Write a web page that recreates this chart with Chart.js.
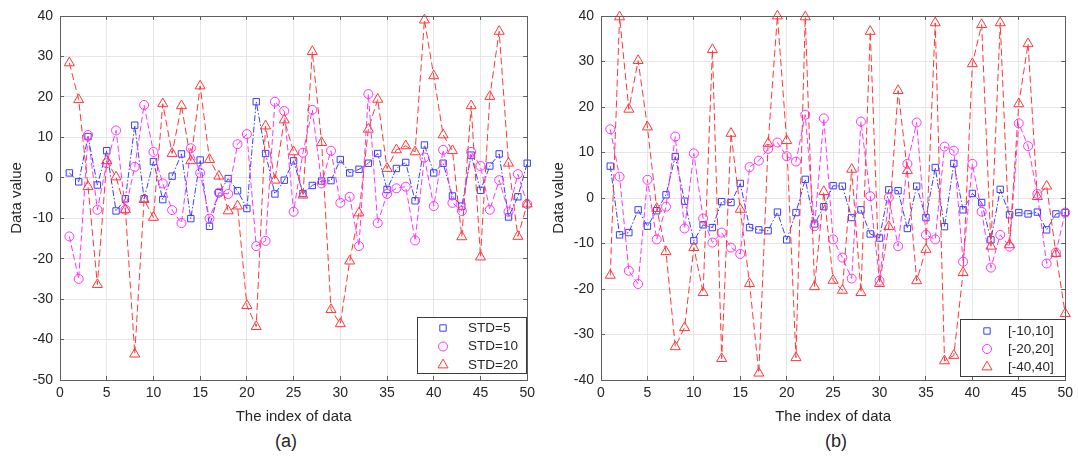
<!DOCTYPE html>
<html>
<head>
<meta charset="utf-8">
<script src="https://cdn.jsdelivr.net/npm/chart.js@4.4.1/dist/chart.umd.min.js"></script>
<style>
  html, body { margin: 0; padding: 0; background: #fff; }
  body { width: 1078px; height: 459px; position: relative; overflow: hidden; font-family: "Liberation Sans", Arial, sans-serif; }
  canvas { position: absolute; top: 0; }
  #chartA { left: 0; }
  #chartB { left: 540px; }
  .caption { position: absolute; top: 431px; font-size: 18px; color: #262626; transform: translateX(-50%); }
</style>
</head>
<body>
<canvas id="chartA" width="540" height="430"></canvas>
<canvas id="chartB" width="538" height="430"></canvas>
<div class="caption" style="left:286px">(a)</div>
<div class="caption" style="left:836px">(b)</div>
<script>
// indices of the data points (x axis)
const indices = Array.from({length: 50}, (_, i) => i + 1)

// (a) gaussian noise with different standard deviations
const std5 = [1.2, -1.0, 10.2, -1.8, 6.7, -8.2, -5.2, 13.0, -5.2, 4.0,
  -5.4, 0.4, 5.9, -10.1, 4.4, -12.0, -3.7, -0.2, -3.2, -7.6,
  18.8, 6.0, -4.0, -0.6, 4.2, -3.9, -1.9, -0.8, -0.7, 4.5,
  1.2, 2.1, 3.6, 6.0, -2.9, 2.3, 3.8, -5.7, 8.1, 1.2,
  3.6, -4.5, -7.0, 5.6, -3.1, 2.9, 5.9, -9.7, -4.7, 3.6]
const std10 = [-14.5, -25.0, 10.6, -7.9, 3.6, 11.7, -7.9, 2.7, 18.0, 6.4,
  -1.4, -8.0, -11.2, 7.3, 1.2, -10.1, -3.7, -4.0, 8.3, 10.8,
  -16.9, -15.6, 18.8, 16.5, -8.4, 6.2, 16.8, -1.4, 6.7, -6.2,
  -4.7, -16.9, 20.7, -11.2, -4.0, -2.6, -2.2, -15.5, 5.0, -7.0,
  6.9, -6.2, -8.2, 6.4, 2.9, -7.9, -0.6, -8.4, 0.9, -6.5]
const std20 = [28.4, 19.3, -2.2, -26.4, 4.2, 0.2, -7.9, -43.6, -5.4, -9.8,
  18.3, 6.0, 17.8, 4.2, 22.7, 4.5, 0.4, -8.2, -7.0, -31.6,
  -36.8, 12.8, -0.6, 14.3, 6.4, -4.3, 31.2, 8.7, -32.6, -36.1,
  -20.6, -8.7, 12.0, 19.4, 2.3, 6.9, 7.9, 6.4, 39.0, 25.2,
  10.6, 6.7, -14.6, 17.8, -19.6, 20.1, 36.2, 3.6, -14.5, -6.5]

// (b) uniform noise with different ranges
const range10 = [7.0, -8.1, -7.6, -2.6, -6.2, -2.8, 0.7, 9.1, -0.7, -9.4,
  -5.9, -6.5, -0.8, -1.0, 3.2, -6.5, -7.0, -7.2, -3.1, -9.2,
  -3.2, 4.1, -5.7, -1.9, 2.7, 2.6, -4.3, -2.6, -7.9, -8.8,
  1.8, 1.6, -6.7, 2.6, -4.3, 6.7, -6.3, 7.6, -2.6, 1.0,
  -1.0, -9.2, 1.9, -3.7, -3.2, -3.5, -3.1, -7.0, -3.5, -3.2]
const range20 = [15.1, 4.7, -16.0, -18.9, 4.0, -9.1, -1.9, 13.5, -6.7, 9.8,
  -4.5, -9.8, -7.6, -10.9, -12.3, 6.8, 8.2, 10.8, 12.2, 9.2,
  8.0, 18.3, -6.2, 17.5, -9.1, -13.1, -17.7, 16.8, 0.4, -18.2,
  0.1, -10.6, 7.5, 16.6, -8.1, -9.1, 11.3, 10.4, -14.0, 7.5,
  -3.0, -15.3, -8.1, -10.7, 16.4, 11.4, 0.9, -14.4, -12.0, -3.2]
const range40 = [-17.0, 39.8, 19.5, 30.2, 15.6, -2.3, -11.8, -32.7, -28.5, -10.9,
  -20.8, 32.6, -35.3, 14.2, -2.5, -18.8, -38.5, 12.0, 40.0, 12.6,
  -35.1, 39.8, -19.5, 1.4, -18.1, -20.3, 6.3, -20.8, 36.6, -18.8,
  -6.3, 23.6, 6.0, -18.2, -11.3, 38.5, -35.8, -34.6, -16.4, 29.5,
  38.1, -10.6, 38.5, -10.3, 20.7, 33.9, 0.3, 2.6, -12.2, -25.4]

const legendA = ['STD=5', 'STD=10', 'STD=20']
const legendB = ['[-10,10]', '[-20,20]', '[-40,40]']

const FONT = '"Liberation Sans", Arial, sans-serif'
const TEXT = '#262626'
const BLUE = 'rgb(60, 60, 255)'
const MAGENTA = 'rgb(255, 50, 255)'
const RED = 'rgb(255, 55, 55)'

function serie(label, values, color, style, radius, dash, order) {
    return {
        label: label,
        data: values.map((v, i) => ({x: indices[i], y: v})),
        borderColor: color,
        backgroundColor: 'rgba(0,0,0,0)',
        pointBorderColor: color,
        pointBackgroundColor: 'rgba(0,0,0,0)',
        pointStyle: style,
        pointRadius: radius,
        pointHoverRadius: radius,
        pointBorderWidth: 1,
        borderWidth: 1,
        borderDash: dash,
        tension: 0,
        fill: false,
        clip: false,
        order: order
    }
}

function markerFallback(ctx, style, r, x, y) {
    ctx.beginPath()
    if (style === 'rect') {
        const s = r * Math.SQRT1_2
        ctx.rect(x - s, y - s, 2 * s, 2 * s)
    } else if (style === 'triangle') {
        ctx.moveTo(x, y - r)
        ctx.lineTo(x + Math.sin(2 * Math.PI / 3) * r, y + r / 2)
        ctx.lineTo(x - Math.sin(2 * Math.PI / 3) * r, y + r / 2)
        ctx.closePath()
    } else {
        ctx.arc(x, y, r, 0, Math.PI * 2)
    }
    ctx.stroke()
}

// box around the axes, with small inward ticks like matlab
const framePlugin = {
    id: 'frame',
    afterDatasetsDraw(chart) {
        const {ctx, chartArea: a, scales} = chart
        const px = v => Math.round(v - 0.5) + 0.5
        ctx.save()
        ctx.strokeStyle = '#5e5e5e'
        ctx.lineWidth = 1
        ctx.beginPath()
        scales.x.ticks.forEach(t => {
            const x = px(scales.x.getPixelForValue(t.value))
            ctx.moveTo(x, a.bottom); ctx.lineTo(x, a.bottom - 4)
            ctx.moveTo(x, a.top); ctx.lineTo(x, a.top + 4)
        })
        scales.y.ticks.forEach(t => {
            const y = px(scales.y.getPixelForValue(t.value))
            ctx.moveTo(a.left, y); ctx.lineTo(a.left + 4, y)
            ctx.moveTo(a.right, y); ctx.lineTo(a.right - 4, y)
        })
        ctx.stroke()
        ctx.strokeRect(px(a.left), px(a.top), Math.round(a.right - a.left), Math.round(a.bottom - a.top))
        ctx.restore()
    }
}

// legend drawn inside the axes (bottom right), markers only
const boxLegend = {
    id: 'boxLegend',
    afterDraw(chart, args, opts) {
        const {ctx, chartArea: a} = chart
        const left = Math.round(a.right - opts.right - opts.width)
        const top = Math.round(a.bottom - opts.bottom - opts.height)
        ctx.save()
        ctx.fillStyle = '#fff'
        ctx.fillRect(left, top, opts.width, opts.height)
        ctx.strokeStyle = '#3c3c3c'
        ctx.lineWidth = 1
        ctx.strokeRect(left + 0.5, top + 0.5, opts.width, opts.height)
        ctx.font = '13.5px ' + FONT
        ctx.textBaseline = 'middle'
        chart.data.datasets.forEach((ds, i) => {
            const y = top + opts.firstRow + i * opts.rowGap
            ctx.strokeStyle = ds.pointBorderColor
            ctx.fillStyle = 'rgba(0,0,0,0)'
            ctx.lineWidth = 1
            ctx.setLineDash([])
            if (Chart.helpers && Chart.helpers.drawPoint) {
                Chart.helpers.drawPoint(ctx, {pointStyle: ds.pointStyle, radius: ds.pointRadius, rotation: 0, borderWidth: 1}, left + opts.markerX, y)
            } else {
                markerFallback(ctx, ds.pointStyle, ds.pointRadius, left + opts.markerX, y)
            }
            ctx.fillStyle = TEXT
            ctx.fillText(ds.label, left + opts.textX, y)
        })
        ctx.restore()
    }
}

function makeChart(id, names, series, yMin, yMax, yAxisWidth, padRight, titlePad, legendOpts) {
    const ctx = document.getElementById(id).getContext('2d')
    return new Chart(ctx, {
        type: 'line',
        data: {
            datasets: [
                serie(names[0], series[0], BLUE, 'rect', 4.5, [6, 2, 1.5, 2], 3),
                serie(names[1], series[1], MAGENTA, 'circle', 4.5, [6, 3], 2),
                serie(names[2], series[2], RED, 'triangle', 5.8, [7, 3.5], 1)
            ]
        },
        options: {
            responsive: false,
            devicePixelRatio: 1,
            animation: false,
            events: [],
            layout: {padding: {top: 16, right: padRight, left: 0, bottom: 0}},
            plugins: {
                legend: {display: false},
                tooltip: {enabled: false},
                boxLegend: legendOpts
            },
            scales: {
                x: {
                    type: 'linear',
                    min: 0,
                    max: 50,
                    afterFit: s => { s.height = 50 },
                    grid: {color: '#e6e6e6', drawTicks: false},
                    border: {display: false},
                    ticks: {stepSize: 5, padding: 5, maxRotation: 0, autoSkip: false, color: TEXT, font: {family: FONT, size: 14}},
                    title: {display: true, text: 'The index of data', color: TEXT, font: {family: FONT, size: 15}, padding: {top: 0, bottom: 4}}
                },
                y: {
                    min: yMin,
                    max: yMax,
                    afterFit: s => { s.width = yAxisWidth },
                    grid: {color: '#e6e6e6', drawTicks: false},
                    border: {display: false},
                    ticks: {stepSize: 10, padding: 7, color: TEXT, font: {family: FONT, size: 14}},
                    title: {display: true, text: 'Data value', color: TEXT, font: {family: FONT, size: 15}, padding: {top: titlePad, bottom: 0}}
                }
            }
        },
        plugins: [framePlugin, boxLegend]
    })
}

makeChart('chartA', legendA, [std5, std10, std20], -50, 40, 60, 9, 8,
    {width: 109, height: 56, right: 1, bottom: 7, firstRow: 11, rowGap: 18.5, markerX: 26, textX: 51})
makeChart('chartB', legendB, [range10, range20, range40], -40, 40, 61, 6, 10,
    {width: 105, height: 57, right: 0, bottom: 4, firstRow: 12, rowGap: 18, markerX: 27, textX: 48})
</script>
</body>
</html>
